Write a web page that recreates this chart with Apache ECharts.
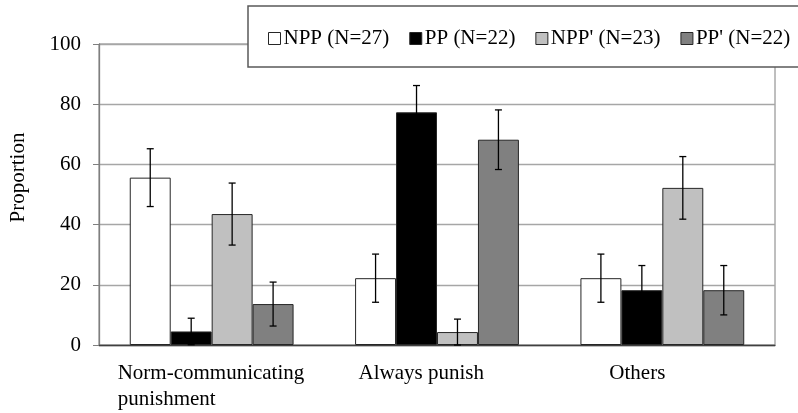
<!DOCTYPE html>
<html>
<head>
<meta charset="utf-8">
<script src="https://cdn.jsdelivr.net/npm/echarts@6/dist/echarts.min.js"></script>
<style>
html,body{margin:0;padding:0;background:#fff;}
#chart{width:798px;height:413px;}
</style>
</head>
<body>
<div id="chart"></div>
<script>
var categories = ['Norm-communicating\npunishment', 'Always punish', 'Others'];
var seriesNames = ['NPP (N=27)', 'PP (N=22)', "NPP' (N=23)", "PP' (N=22)"];
var nppValues = [55.6, 22.2, 22.2];
var ppValues = [4.5, 77.3, 18.2];
var nppPrimeValues = [43.5, 4.3, 52.2];
var ppPrimeValues = [13.6, 68.2, 18.2];
var nppErr = [9.6, 8.0, 8.0];
var ppErr = [4.4, 8.9, 8.2];
var nppPrimeErr = [10.3, 4.3, 10.4];
var ppPrimeErr = [7.3, 9.9, 8.2];
var yTicks = [0, 20, 40, 60, 80, 100];

var values = [nppValues, ppValues, nppPrimeValues, ppPrimeValues];
var errors = [nppErr, ppErr, nppPrimeErr, ppPrimeErr];
var colors = ['#ffffff', '#000000', '#c0c0c0', '#808080'];
var FONT = '"Liberation Serif", "Times New Roman", serif';
var GAP = 0.273;

var chart = echarts.init(document.getElementById('chart'));

var series = [];
values.forEach(function (vals, i) {
  series.push({
    name: seriesNames[i],
    type: 'bar',
    data: vals,
    barGap: 0,
    barCategoryGap: (GAP * 100) + '%',
    itemStyle: { color: colors[i], borderColor: '#262626', borderWidth: 1 },
    emphasis: { disabled: true },
    z: 2
  });
});

values.forEach(function (vals, i) {
  var data = vals.map(function (v, k) { return [k, v, errors[i][k]]; });
  series.push({
    type: 'custom',
    name: 'err' + i,
    data: data,
    z: 5,
    silent: true,
    encode: { x: 0, y: 1 },
    renderItem: function (params, api) {
      var cat = api.value(0), v = api.value(1), e = api.value(2);
      var band = api.size([1, 0])[0];
      var bw = band * (1 - GAP) / 4;
      var c = api.coord([cat, v]);
      var x = c[0] + (i - 1.5) * bw;
      var hi = api.coord([cat, v + e])[1];
      var lo = api.coord([cat, Math.max(0, v - e)])[1];
      var cap = 3.5;
      var st = { stroke: '#000', lineWidth: 1.3, fill: null };
      return {
        type: 'group',
        children: [
          { type: 'line', shape: { x1: x, y1: hi, x2: x, y2: lo }, style: st },
          { type: 'line', shape: { x1: x - cap, y1: hi, x2: x + cap, y2: hi }, style: st },
          { type: 'line', shape: { x1: x - cap, y1: lo, x2: x + cap, y2: lo }, style: st }
        ]
      };
    }
  });
});

var labelWidths = [188, 157, 106];

chart.setOption({
  animation: false,
  backgroundColor: '#ffffff',
  textStyle: { fontFamily: FONT },
  grid: {
    left: 98, right: 23, top: 44, bottom: 68,
    show: true, borderColor: '#7f7f7f', borderWidth: 1, backgroundColor: 'transparent'
  },
  legend: {
    data: seriesNames,
    left: 248, top: 6,
    width: 600,
    orient: 'horizontal',
    padding: [22, 20, 18, 20],
    itemGap: 20,
    itemWidth: 12, itemHeight: 12,
    borderColor: '#595959', borderWidth: 1.5,
    backgroundColor: '#ffffff',
    icon: 'rect',
    itemStyle: { borderColor: '#262626', borderWidth: 1 },
    textStyle: { fontFamily: FONT, fontSize: 21, color: '#000', padding: [0, 0, 0, -2] }
  },
  xAxis: {
    type: 'category',
    data: categories,
    axisLine: { lineStyle: { color: '#404040', width: 1.3 } },
    axisTick: { show: false },
    axisLabel: {
      interval: 0,
      margin: 15,
      color: '#000',
      align: 'center',
      formatter: function (val, idx) {
        return val.split('\n').map(function (s) { return '{c' + idx + '|' + s + '}'; }).join('\n');
      },
      rich: {
        c0: { width: labelWidths[0], align: 'left', fontSize: 21, lineHeight: 26, fontFamily: FONT, color: '#000' },
        c1: { width: labelWidths[1], align: 'left', fontSize: 21, lineHeight: 26, fontFamily: FONT, color: '#000' },
        c2: { width: labelWidths[2], align: 'left', fontSize: 21, lineHeight: 26, fontFamily: FONT, color: '#000' }
      }
    }
  },
  yAxis: {
    type: 'value',
    min: yTicks[0], max: yTicks[yTicks.length - 1], interval: 20,
    name: 'Proportion',
    nameLocation: 'middle',
    nameRotate: 90,
    nameGap: 70,
    nameTextStyle: { fontFamily: FONT, fontSize: 21, color: '#000', padding: [0, 0, 0, 34] },
    axisLine: { show: true, lineStyle: { color: '#7f7f7f', width: 1.3 } },
    axisTick: { show: true, length: 6, lineStyle: { color: '#7f7f7f' } },
    axisLabel: { fontFamily: FONT, fontSize: 21, color: '#000', margin: 18 },
    splitLine: { lineStyle: { color: '#a6a6a6', width: 1.3 } }
  },
  series: series
});
</script>
</body>
</html>
